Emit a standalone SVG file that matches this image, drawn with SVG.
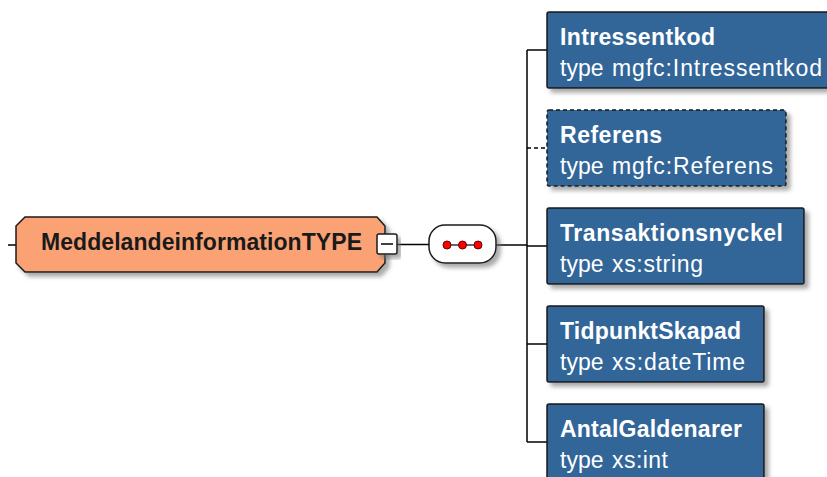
<svg xmlns="http://www.w3.org/2000/svg" width="827" height="477" viewBox="0 0 827 477">
<style>
.el{fill:#336699;stroke:#1a1a1a;stroke-width:1.5}
.dash{stroke-dasharray:4 3}
.nm{font-family:"Liberation Sans",Arial,sans-serif;font-size:23px;font-weight:bold;fill:#ffffff}
.tp{font-family:"Liberation Sans",Arial,sans-serif;font-size:23px;fill:#ffffff}
.ln{stroke:#000000;stroke-width:1.5;fill:none}
</style>
<defs>
<filter id="sh" x="-10%" y="-10%" width="130%" height="140%">
<feDropShadow dx="4" dy="4" stdDeviation="2" flood-color="#707070" flood-opacity="0.6"/>
</filter>
</defs>
<rect width="827" height="477" fill="#ffffff"/>
<g id="connectors">
<line class="ln" x1="8" y1="245" x2="16" y2="245"/>
<line class="ln" x1="397" y1="244.5" x2="429" y2="244.5"/>
<line class="ln" x1="496" y1="245" x2="527" y2="245"/>
<line class="ln" x1="527" y1="50" x2="527" y2="442"/>
<line class="ln" x1="527" y1="50" x2="547" y2="50"/>
<line class="ln dash" x1="527" y1="148" x2="547" y2="148"/>
<line class="ln" x1="527" y1="246" x2="547" y2="246"/>
<line class="ln" x1="527" y1="344" x2="547" y2="344"/>
<line class="ln" x1="527" y1="442" x2="547" y2="442"/>
</g>
<g id="MeddelandeinformationTYPE">
<polygon points="25,217 377,217 385,226 385,263 377,272 25,272 16,263 16,226" fill="#FBA274" stroke="#1a1a1a" stroke-width="1.5" filter="url(#sh)"/>
<text x="41" y="250" font-family="&quot;Liberation Sans&quot;,Arial,sans-serif" font-size="23" font-weight="bold" fill="#1a1a1a" textLength="321" lengthAdjust="spacing">MeddelandeinformationTYPE</text>
</g>
<g id="collapse">
<rect x="377" y="234" width="20" height="20" rx="2" fill="#ffffff" stroke="#1a1a1a" stroke-width="1.5" filter="url(#sh)"/>
<line x1="381" y1="244" x2="393" y2="244" stroke="#000" stroke-width="1.5"/>
</g>
<g id="sequence">
<rect x="429" y="225" width="67" height="38" rx="16" fill="#ffffff" stroke="#1a1a1a" stroke-width="1.5" filter="url(#sh)"/>
<line x1="447" y1="245" x2="478" y2="245" stroke="#333" stroke-width="1.5"/>
<circle cx="447" cy="245" r="4" fill="#ff0000" stroke="#600" stroke-width="1"/>
<circle cx="462.5" cy="245" r="4" fill="#ff0000" stroke="#600" stroke-width="1"/>
<circle cx="478" cy="245" r="4" fill="#ff0000" stroke="#600" stroke-width="1"/>
</g>
<g id="Intressentkod">
<rect class="el" x="547" y="12" width="290" height="76" rx="2" filter="url(#sh)"/>
<text class="nm" x="560" y="45" textLength="155" lengthAdjust="spacing">Intressentkod</text>
<text class="tp" x="560" y="76">type</text>
<text class="tp" x="612" y="76" textLength="210" lengthAdjust="spacing">mgfc:Intressentkod</text>
</g>
<g id="Referens">
<rect class="el dash" x="547" y="110" width="239" height="76" rx="2" filter="url(#sh)"/>
<text class="nm" x="560" y="143" textLength="102" lengthAdjust="spacing">Referens</text>
<text class="tp" x="560" y="174">type</text>
<text class="tp" x="612" y="174" textLength="161" lengthAdjust="spacing">mgfc:Referens</text>
</g>
<g id="Transaktionsnyckel">
<rect class="el" x="547" y="208" width="257" height="76" rx="2" filter="url(#sh)"/>
<text class="nm" x="560" y="241" textLength="223" lengthAdjust="spacing">Transaktionsnyckel</text>
<text class="tp" x="560" y="272">type</text>
<text class="tp" x="612" y="272" textLength="91" lengthAdjust="spacing">xs:string</text>
</g>
<g id="TidpunktSkapad">
<rect class="el" x="547" y="306" width="217" height="76" rx="2" filter="url(#sh)"/>
<text class="nm" x="560" y="339" textLength="181" lengthAdjust="spacing">TidpunktSkapad</text>
<text class="tp" x="560" y="370">type</text>
<text class="tp" x="612" y="370" textLength="133" lengthAdjust="spacing">xs:dateTime</text>
</g>
<g id="AntalGaldenarer">
<rect class="el" x="547" y="404" width="217" height="90" rx="2" filter="url(#sh)"/>
<text class="nm" x="560" y="437" textLength="182" lengthAdjust="spacing">AntalGaldenarer</text>
<text class="tp" x="560" y="468">type</text>
<text class="tp" x="612" y="468" textLength="56" lengthAdjust="spacing">xs:int</text>
</g>
</svg>
